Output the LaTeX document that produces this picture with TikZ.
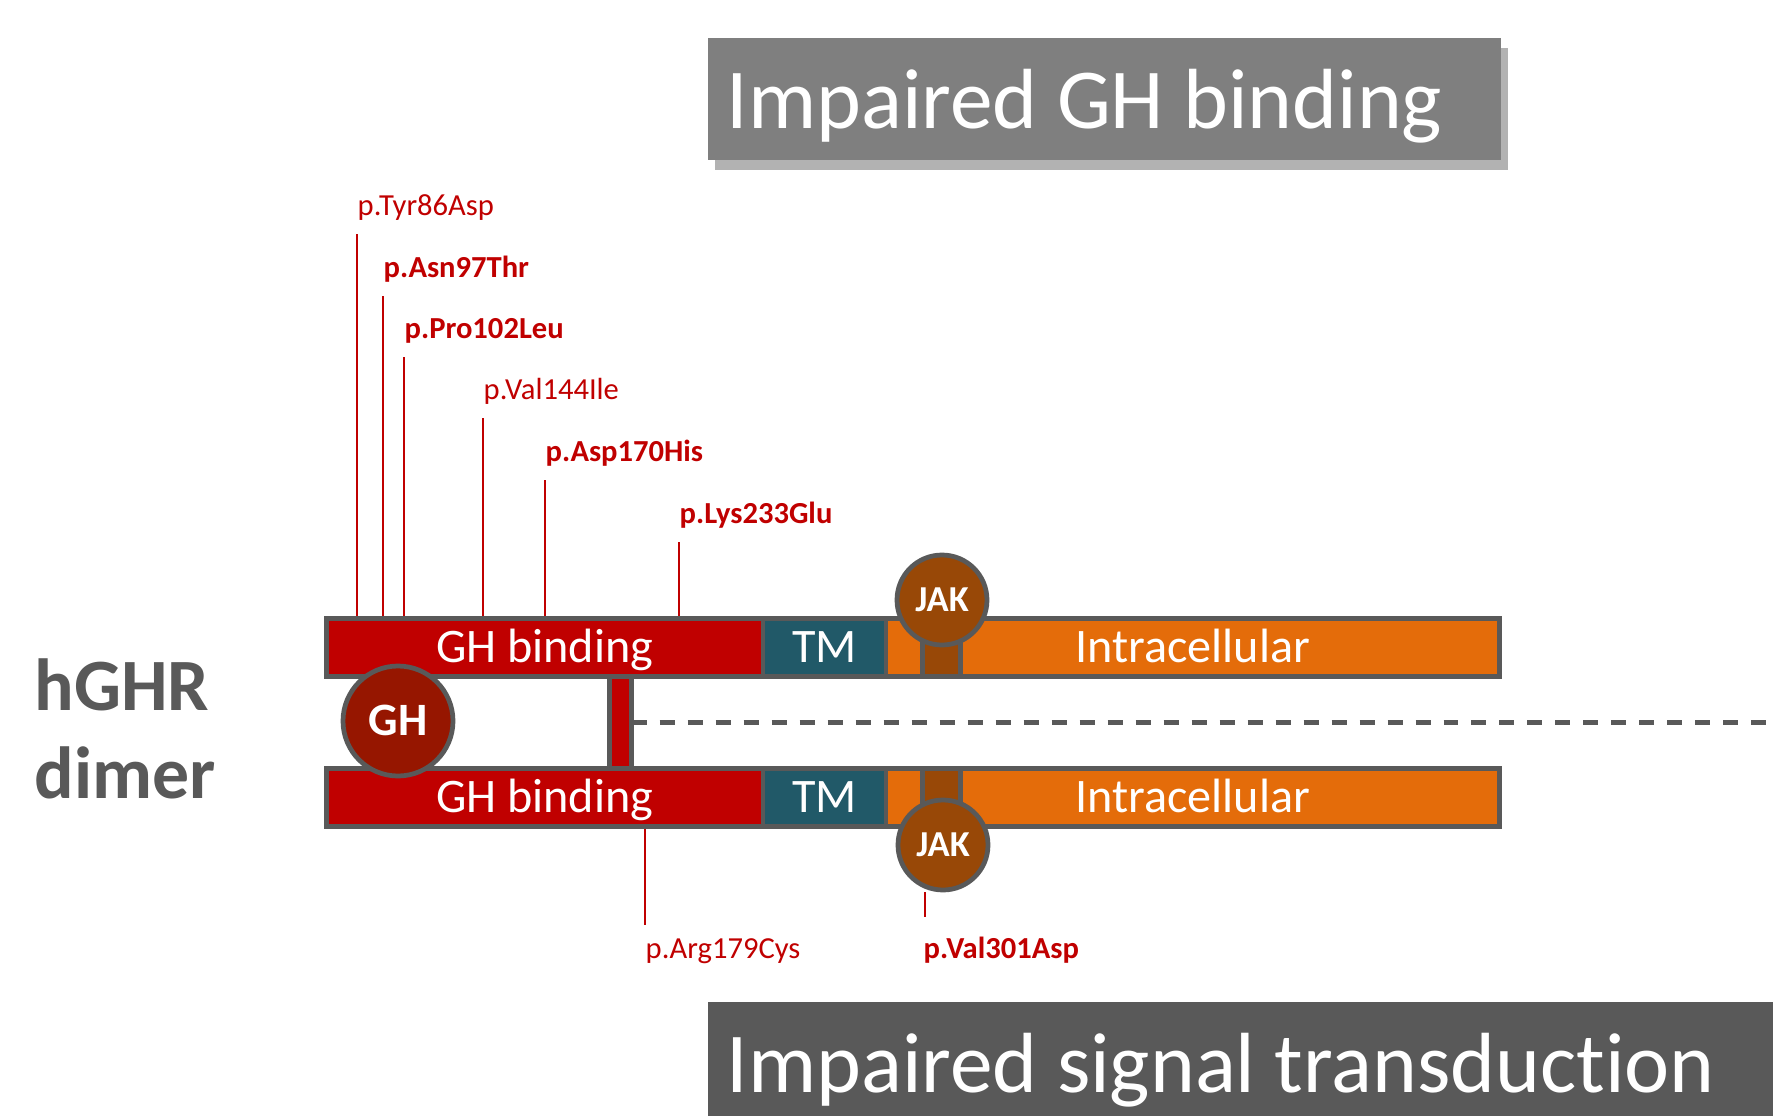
\documentclass[tikz,border=0pt]{standalone}
\usepackage{fontspec}
\setmainfont{Carlito}[Ligatures=NoCommon]
\usetikzlibrary{positioning,shadows}
\definecolor{ghred}{RGB}{192,0,0}
\definecolor{tmteal}{RGB}{33,89,104}
\definecolor{icorange}{RGB}{228,108,10}
\definecolor{jakbrown}{RGB}{152,72,7}
\definecolor{ghball}{RGB}{150,22,0}
\definecolor{edgegray}{RGB}{89,89,89}
\definecolor{titlegray}{RGB}{127,127,127}
\definecolor{titledark}{RGB}{89,89,89}
\tikzset{
  segbox/.style={draw=edgegray,line width=1.35pt,minimum height=5.8mm,inner sep=0pt,outer sep=0pt,
    text=white,text height=8.6pt,text depth=0pt,font=\fontsize{13.7pt}{16pt}\selectfont},
  linkbar/.style={draw=edgegray,line width=1.35pt,fill=ghred,inner sep=0pt,outer sep=0pt,
    minimum width=2.2mm,minimum height=9.2mm},
  jakstem/.style={draw=edgegray,line width=1.35pt,fill=jakbrown,inner sep=0pt,outer sep=0pt,
    minimum width=3.8mm,minimum height=7.65mm},
  ball/.style={circle,draw=edgegray,line width=1.35pt,inner sep=0pt,outer sep=0pt,
    text=white,text depth=0pt},
  titlebox/.style={anchor=north west,inner xsep=1.9mm,inner ysep=0pt,minimum height=12.2mm,
    text=white,align=flush left,text depth=0pt,font=\fontsize{24.3pt}{28pt}\selectfont},
  mutlab/.style={inner sep=0pt,text=ghred,font=\fontsize{8.7pt}{10pt}\selectfont},
  mutline/.style={draw=ghred,line width=0.7pt,shorten >=0.7pt,shorten <=0.7pt},
  dimerline/.style={draw=edgegray,line width=1.15pt,dash pattern=on 1.5mm off 1.3mm}
}
% label above the upper chain, line down to the GH binding domain
\newcommand{\mutup}[4]{%
  \node[mutlab,anchor=base west] (#1) at (#2,#3) {#4};
  \draw[mutline] ([yshift=-1.7mm]#1.base west) -- (#1.base west |- ghA.north);
}
\begin{document}
\begin{tikzpicture}[x=0.1mm,y=-0.1mm]
  \useasboundingbox (0,0) rectangle (1773,1116);
  % headings
  \node[titlebox,fill=titlegray,text width=75.5mm,
    drop shadow={shadow xshift=2pt,shadow yshift=-3pt,opacity=.3,fill=black}] (tbind) at (707,37) {Impaired GH binding};
  \node[titlebox,fill=titledark,text width=102.8mm] (tsig) at (707,1001) {Impaired signal transduction};
  % upper chain
  \node[segbox,fill=ghred,minimum width=43.65mm] (ghA) at (544.75,647.5) {GH binding};
  \node[segbox,fill=tmteal,minimum width=12.3mm,right=0pt of ghA] (tmA) {TM};
  \node[segbox,fill=icorange,minimum width=61.35mm,right=0pt of tmA] (icA) {Intracellular};
  % lower chain
  \node[segbox,fill=ghred,minimum width=43.65mm] (ghB) at (544.75,797.5) {GH binding};
  \node[segbox,fill=tmteal,minimum width=12.3mm,right=0pt of ghB] (tmB) {TM};
  \node[segbox,fill=icorange,minimum width=61.35mm,right=0pt of tmB] (icB) {Intracellular};
  % dimer link
  \node[linkbar] (link) at (620.5,722.5) {};
  \coordinate (dashend) at (1773,722.5);
  \draw[dimerline] (link.east) -- (dashend);
  % JAK
  \node[jakstem] (stemA) at (941.5,638.25) {};
  \node[jakstem] (stemB) at (941.5,806.75) {};
  \node[ball,fill=jakbrown,minimum size=9mm,text height=6.6pt,font=\bfseries\fontsize{10.4pt}{12pt}\selectfont] (jakA) at (942,600) {JAK};
  \node[ball,fill=jakbrown,minimum size=9mm,text height=6.6pt,font=\bfseries\fontsize{10.4pt}{12pt}\selectfont] (jakB) at (943,845) {JAK};
  % GH
  \node[ball,fill=ghball,minimum size=11mm,text height=8.4pt,font=\bfseries\fontsize{13.2pt}{15pt}\selectfont] (gh) at (398,721) {GH};
  \node[anchor=base west,inner sep=0pt,align=left,text=edgegray,font=\bfseries\fontsize{21pt}{25pt}\selectfont] (dimer) at (34,798) {hGHR\\dimer};
  % mutations
  \mutup{m86}{357}{215}{p.Tyr86Asp}
  \mutup{m97}{383}{277}{\textbf{p.Asn97Thr}}
  \mutup{m102}{404}{338}{\textbf{p.Pro102Leu}}
  \mutup{m144}{483}{399}{p.Val144Ile}
  \mutup{m170}{545}{461}{\textbf{p.Asp170His}}
  \mutup{m233}{679}{523}{\textbf{p.Lys233Glu}}
  \node[mutlab,anchor=base west] (m179) at (645,958) {p.Arg179Cys};
  \draw[mutline] (m179.base west |- ghB.south) -- ([yshift=3.1mm]m179.base west);
  \node[mutlab,anchor=base west] (m301) at (923,958) {\textbf{p.Val301Asp}};
  \draw[mutline] ([xshift=0.2mm]m301.base west |- jakB.south) -- ([xshift=0.2mm,yshift=3.9mm]m301.base west);
\end{tikzpicture}
\end{document}
